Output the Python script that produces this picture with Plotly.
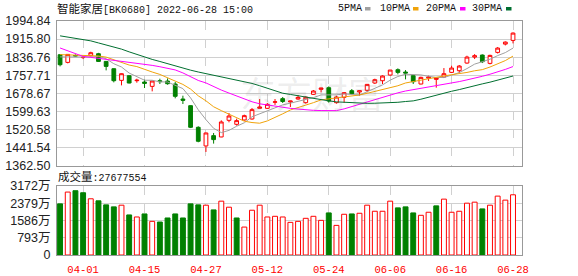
import plotly.graph_objects as go

# ---------------- data ----------------
dates = ["03-29", "03-30", "03-31", "04-01", "04-06", "04-07", "04-08", "04-11", "04-12", "04-13",
         "04-14", "04-15", "04-18", "04-19", "04-20", "04-21", "04-22", "04-25", "04-26", "04-27",
         "04-28", "04-29", "05-05", "05-06", "05-09", "05-10", "05-11", "05-12", "05-13", "05-16",
         "05-17", "05-18", "05-19", "05-20", "05-23", "05-24", "05-25", "05-26", "05-27", "05-30",
         "05-31", "06-01", "06-02", "06-06", "06-07", "06-08", "06-09", "06-10", "06-13", "06-14",
         "06-15", "06-16", "06-17", "06-20", "06-21", "06-22", "06-23", "06-24", "06-27", "06-28"]

opens = [1847.4, 1814.0, 1844.0, 1835.0, 1843.1, 1851.8, 1818.3, 1786.3, 1735.4, 1755.8,
         1734.0, 1728.1, 1709.2, 1734.0, 1732.5, 1719.4, 1653.9, 1624.8, 1530.3, 1448.8,
         1493.9, 1488.1, 1560.8, 1543.4, 1562.3, 1566.7, 1613.2, 1613.2, 1640.0, 1655.4,
         1641.0, 1653.9, 1637.9, 1674.3, 1696.1, 1703.4, 1637.9, 1661.2, 1690.3, 1684.5,
         1691.8, 1723.8, 1733.9, 1758.7, 1782.0, 1771.8, 1755.8, 1719.4, 1745.0, 1739.8,
         1749.9, 1770.3, 1777.6, 1811.1, 1837.2, 1846.0, 1809.6, 1857.6, 1894.0, 1910.0]
highs = [1849.0, 1850.0, 1849.0, 1841.6, 1860.6, 1855.6, 1819.5, 1788.0, 1766.0, 1757.0,
         1742.7, 1738.3, 1733.0, 1742.7, 1744.1, 1728.1, 1668.5, 1626.0, 1534.6, 1507.0,
         1505.5, 1560.8, 1592.8, 1568.1, 1585.6, 1614.7, 1653.9, 1636.5, 1653.9, 1662.7,
         1646.0, 1671.4, 1665.6, 1693.2, 1703.0, 1709.2, 1668.5, 1684.5, 1697.6, 1691.0,
         1719.4, 1742.7, 1757.2, 1781.0, 1787.8, 1780.5, 1756.5, 1751.4, 1755.8, 1746.5,
         1789.2, 1799.4, 1802.3, 1843.1, 1850.3, 1848.9, 1847.5, 1880.9, 1905.6, 1944.9]
lows = [1796.5, 1809.6, 1839.0, 1828.5, 1840.0, 1816.0, 1779.1, 1726.7, 1713.6, 1722.3,
        1725.2, 1701.9, 1687.4, 1719.4, 1716.5, 1656.9, 1632.1, 1527.0, 1464.8, 1422.6,
        1459.0, 1487.0, 1552.1, 1537.6, 1559.4, 1563.7, 1612.0, 1610.3, 1627.9, 1636.5,
        1619.0, 1650.9, 1633.6, 1671.4, 1683.0, 1638.0, 1633.6, 1637.9, 1674.3, 1668.5,
        1683.0, 1719.4, 1719.4, 1755.8, 1761.6, 1739.8, 1719.4, 1717.9, 1732.5, 1703.4,
        1745.6, 1767.4, 1767.4, 1808.1, 1828.5, 1811.1, 1805.3, 1852.7, 1888.1, 1896.9]
closes = [1803.8, 1848.9, 1842.0, 1835.8, 1856.2, 1818.3, 1796.5, 1733.9, 1764.5, 1723.8,
          1736.0, 1722.3, 1732.5, 1730.0, 1720.8, 1665.6, 1648.1, 1530.3, 1469.2, 1505.5,
          1476.5, 1553.6, 1579.7, 1559.4, 1581.2, 1607.4, 1619.0, 1630.7, 1641.5, 1643.0,
          1645.0, 1661.2, 1662.0, 1688.9, 1702.0, 1645.2, 1662.7, 1681.6, 1677.2, 1690.3,
          1717.9, 1738.3, 1754.3, 1780.5, 1770.3, 1767.4, 1729.6, 1748.5, 1750.0, 1745.6,
          1764.5, 1789.2, 1798.0, 1837.2, 1843.1, 1816.9, 1844.5, 1876.5, 1902.7, 1942.0]

# volume in 万 (10k shares); last = 27677554 shares
volumes = [2351, 2893, 2955, 2862, 2584, 2491, 2305, 2212, 2290, 1841,
           1748, 1887, 1547, 1516, 1702, 1887, 1702, 2351, 2305, 2290,
           2073, 2475, 2197, 1702, 1284, 2058, 2290, 1748, 1779, 1748,
           1500, 1547, 1686, 1779, 1593, 1934, 1361, 1872, 1887, 1918,
           2290, 2011, 2011, 2475, 2166, 2212, 1934, 1825, 1965, 2259,
           2568, 1965, 2011, 2382, 2429, 2119, 2290, 2707, 2522, 2767.7554]
vol_up = [0, 1, 0, 0, 1, 0, 0, 0, 1, 0,
          1, 0, 1, 0, 0, 0, 0, 0, 0, 1,
          0, 1, 1, 0, 1, 1, 1, 1, 1, 1,
          1, 1, 1, 1, 1, 0, 1, 1, 0, 1,
          1, 1, 1, 1, 0, 0, 0, 1, 1, 0,
          1, 1, 1, 1, 1, 0, 1, 1, 1, 1]

# moving-average values before a full window exists inside this view
ma5_head = [1838, 1838, 1837, 1836]
ma10_head = [1848, 1847, 1846, 1845, 1844, 1842, 1837, 1826, 1814]
ma20_head = [1877, 1865, 1852, 1840, 1836, 1832, 1827, 1823, 1819, 1815,
             1811, 1806, 1801, 1795, 1789, 1781, 1768, 1752, 1735]
ma30_head = [1930, 1925, 1920, 1916, 1908, 1899, 1891, 1882, 1872, 1860,
             1848, 1836, 1827, 1818, 1808, 1799, 1790, 1780, 1772, 1765,
             1757, 1750, 1745, 1738, 1730, 1722, 1712, 1701, 1690]

price_ticks = [1362.50, 1441.54, 1520.58, 1599.63, 1678.67, 1757.71, 1836.76, 1915.80, 1994.84]
vol_ticks = [0, 793, 1586, 2379, 3172]
date_ticks = ["04-01", "04-15", "04-27", "05-12", "05-24", "06-06", "06-16", "06-28"]

title_name = "智能家居"
title_rest = "[BK0680] 2022-06-28 15:00"
vol_title = "成交量"
last_volume = "27677554"
ma_names = ["5PMA", "10PMA", "20PMA", "30PMA"]


def moving_average(vals, n, head):
    out = []
    for i in range(len(vals)):
        if i >= n - 1:
            out.append(sum(vals[i - n + 1:i + 1]) / n)
        else:
            out.append(head[i])
    return out


x = list(range(len(dates)))
ma_vals = [moving_average(closes, 5, ma5_head), moving_average(closes, 10, ma10_head),
           moving_average(closes, 20, ma20_head), moving_average(closes, 30, ma30_head)]

# ---------------- style ----------------
RED = "#ff0000"
GREEN = "#008000"
MA_COLORS = ["#a0a0a0", "#f0a30a", "#ff00ff", "#006f30"]
GRID = "#d0d0d0"
BORDER = "#999999"

W, H = 578, 276
L, R, T, B = 57, 522, 21, 255


def pxx(p):
    return (p - L) / (R - L)


def pxy(p):
    return (B - p) / (B - T)


fig = go.Figure()

fig.add_trace(go.Candlestick(
    x=x, open=opens, high=highs, low=lows, close=closes,
    increasing=dict(line=dict(color=RED, width=1), fillcolor="#ffffff"),
    decreasing=dict(line=dict(color=GREEN, width=1), fillcolor=GREEN),
    whiskerwidth=0, xaxis="x", yaxis="y", hoverinfo="skip", showlegend=False))

for vals, col in zip(ma_vals, MA_COLORS):
    fig.add_trace(go.Scatter(x=x, y=vals, mode="lines", line=dict(color=col, width=1),
                             xaxis="x", yaxis="y", hoverinfo="skip", showlegend=False))

fig.add_trace(go.Bar(
    x=x, y=volumes, width=0.64,
    marker=dict(color=["#ffffff" if u else GREEN for u in vol_up],
                line=dict(color=[RED if u else GREEN for u in vol_up], width=1)),
    xaxis="x2", yaxis="y2", hoverinfo="skip", showlegend=False))

xr = [-0.4, len(dates) - 1 + 1.17]
tickpos = [dates.index(d) for d in date_ticks]
axis_common = dict(showline=True, mirror=True, linecolor=BORDER, linewidth=1, zeroline=False,
                   ticks="", automargin=False)

main_bottom = pxy(165.7)
vol_top = pxy(186)

fig.update_layout(
    width=W, height=H,
    margin=dict(l=L, r=W - R, t=T, b=H - B, pad=0, autoexpand=False),
    paper_bgcolor="white", plot_bgcolor="white",
    showlegend=False,
    font=dict(family="Liberation Sans, Arial, sans-serif", size=12, color="#222"),
    xaxis=dict(domain=[0, 1], range=xr, anchor="y", tickvals=tickpos, showticklabels=False,
               showgrid=True, gridcolor=GRID, griddash="dash", gridwidth=1,
               rangeslider=dict(visible=False), **axis_common),
    yaxis=dict(domain=[main_bottom, 1], range=[price_ticks[0], price_ticks[-1]], anchor="x",
               tickvals=price_ticks, ticktext=["%.2f" % v for v in price_ticks],
               showgrid=True, gridcolor=GRID, gridwidth=1,
               tickfont=dict(family="Liberation Sans, Arial", size=12.5, color="#222"),
               ticklabelstandoff=3, **axis_common),
    xaxis2=dict(domain=[0, 1], range=xr, anchor="y2", tickvals=tickpos, ticktext=date_ticks,
                showgrid=True, gridcolor=GRID, griddash="dash", gridwidth=1,
                tickfont=dict(family="Liberation Mono, monospace", size=10.5, color=RED),
                ticklabelstandoff=4, **axis_common),
    yaxis2=dict(domain=[0, vol_top], range=[vol_ticks[0], vol_ticks[-1]], anchor="x2",
                tickvals=vol_ticks,
                ticktext=[("%d万" % v) if v else "0" for v in vol_ticks],
                showgrid=True, gridcolor=GRID, gridwidth=1,
                tickfont=dict(family="Liberation Sans, 'Noto Sans CJK SC'", size=12.5, color="#222"),
                ticklabelstandoff=3, **axis_common),
)

mono_cjk = "Liberation Mono, 'Noto Sans CJK SC'"
annotations = [
    dict(text='<span style="font-size:11.5px">%s</span>%s' % (title_name, title_rest),
         x=pxx(55), y=pxy(9), xref="paper", yref="paper", xanchor="left", yanchor="middle",
         showarrow=False, font=dict(family=mono_cjk, size=10, color="#111")),
    dict(text='<span style="font-size:11.5px">%s</span>:%s' % (vol_title, last_volume),
         x=pxx(56), y=pxy(177), xref="paper", yref="paper", xanchor="left", yanchor="middle",
         showarrow=False, font=dict(family=mono_cjk, size=10, color="#111")),
    dict(text="东方财富", x=pxx(312), y=pxy(92), xref="paper", yref="paper",
         xanchor="center", yanchor="middle", showarrow=False, textangle=0,
         font=dict(family="'Noto Sans CJK SC'", size=36, color="rgba(120,120,120,0.13)")),
]
legend_x = [336, 378, 424, 470]
square_x = [365, 413, 460, 506]
for name, lx, sx, col in zip(ma_names, legend_x, square_x, MA_COLORS):
    annotations.append(dict(text=name, x=pxx(lx), y=pxy(9), xref="paper", yref="paper",
                            xanchor="left", yanchor="middle", showarrow=False,
                            font=dict(family="Liberation Mono, monospace", size=10, color="#111")))
    fig.add_shape(type="rect", xref="paper", yref="paper",
                  x0=pxx(sx), x1=pxx(sx + 5.5), y0=pxy(10.5), y1=pxy(7),
                  fillcolor=col, line=dict(width=0))
fig.update_layout(annotations=annotations)

fig.write_html("out.html")
